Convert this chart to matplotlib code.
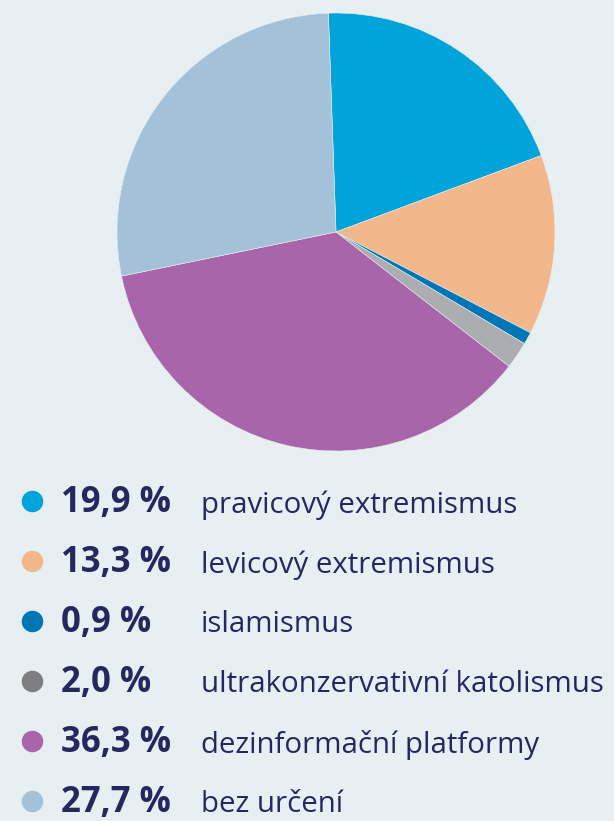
import matplotlib.pyplot as plt

# data
labels = ['pravicový extremismus', 'levicový extremismus', 'islamismus',
          'ultrakonzervativní katolismus', 'dezinformační platformy', 'bez určení']
values = [19.9, 13.3, 0.9, 2.0, 36.3, 27.7]
pct_text = ['19,9 %', '13,3 %', '0,9 %', '2,0 %', '36,3 %', '27,7 %']
pie_colors = ['#00a3da', '#f2b88c', '#0076b6', '#abadb0', '#a865aa', '#a3c2da']
dot_colors = ['#00a3da', '#f2b88c', '#0076b6', '#7d7e82', '#a865aa', '#a3c2da']

W, H = 614, 821
bg = '#e8eff3'
navy = '#272760'

fig = plt.figure(figsize=(W / 100, H / 100), dpi=100, facecolor=bg)

# pie, placed by pixel box
cx, cy, r = 336, 232, 219
ax = fig.add_axes([(cx - r) / W, 1 - (cy + r) / H, 2 * r / W, 2 * r / H])
ax.pie(values, colors=pie_colors, startangle=92, counterclock=False,
       radius=1, wedgeprops=dict(linewidth=0.4, edgecolor=bg))
ax.set_xlim(-1, 1)
ax.set_ylim(-1, 1)
ax.set_aspect('equal')
ax.axis('off')

# legend drawn in pixel coordinates
lg = fig.add_axes([0, 0, 1, 1])
lg.set_xlim(0, W)
lg.set_ylim(H, 0)
lg.axis('off')
lg.patch.set_alpha(0)

y0, step = 501, 60.0
for i, (lab, pct) in enumerate(zip(labels, pct_text)):
    y = y0 + i * step
    base = y + 11
    lg.plot(32, y, 'o', ms=15.5, color=dot_colors[i], mec='none')
    lg.text(61, base, pct, fontsize=25, fontweight='bold', color=navy,
            family='Open Sans', va='baseline', ha='left')
    lg.text(201, base + 0.5, lab, fontsize=21.2, color=navy,
            family='Open Sans', va='baseline', ha='left')

fig.savefig('out.png', dpi=100, facecolor=bg)
